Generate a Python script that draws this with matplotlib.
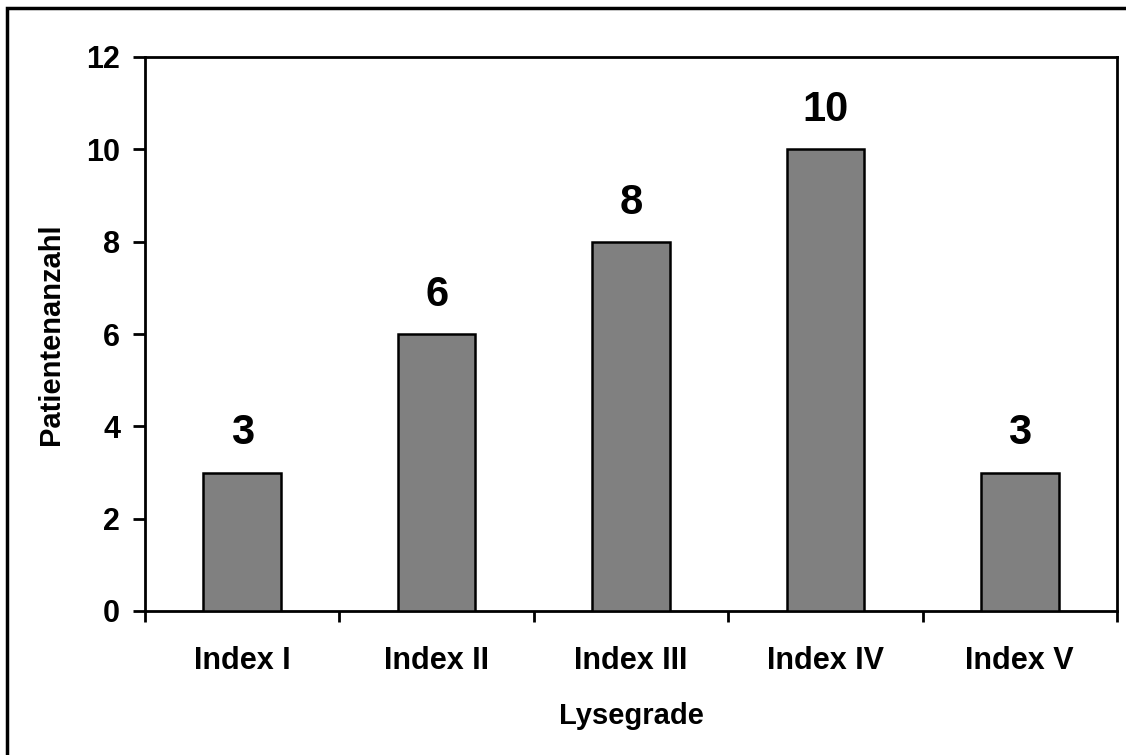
import matplotlib
matplotlib.use("Agg")
import matplotlib.pyplot as plt
from matplotlib.patches import Rectangle
import numpy as np

categories = ["Index I", "Index II", "Index III", "Index IV", "Index V"]
patients = [3, 6, 8, 10, 3]
y_ticks = [0, 2, 4, 6, 8, 10, 12]

plt.rcParams["font.family"] = ["Liberation Sans", "DejaVu Sans"]
plt.rcParams["font.weight"] = "bold"

W, H = 1126, 755
fig = plt.figure(figsize=(W / 100, H / 100), dpi=100)
fig.patch.set_facecolor("white")

ax = fig.add_axes([145 / W, 1 - 611 / H, (1117 - 145) / W, (611 - 57) / H])

x = np.arange(len(categories))
bars = ax.bar(x, patients, width=0.4, color="#808080", edgecolor="black",
              linewidth=1.8, zorder=3)

for xi, v in zip(x, patients):
    ax.annotate(str(v), (xi, v), xytext=(0, 19), textcoords="offset pixels",
                ha="center", va="bottom", fontsize=30, fontweight="bold")

ax.set_xlim(-0.5, len(categories) - 0.5)
ax.set_ylim(0, 12)
ax.set_yticks(y_ticks)
ax.set_yticklabels([str(t) for t in y_ticks], fontsize=22, fontweight="bold")

ax.set_xticks(x)
ax.set_xticklabels(categories, fontsize=22, fontweight="bold")
ax.tick_params(axis="x", which="major", length=0, pad=25)
ax.set_xticks(np.arange(-0.5, len(categories), 1.0), minor=True)
ax.tick_params(axis="x", which="minor", length=8, width=2, direction="out")
ax.tick_params(axis="y", length=9, width=2, direction="out", pad=9)

for s in ax.spines.values():
    s.set_linewidth(2)
    s.set_color("black")

ax.set_xlabel("Lysegrade", fontsize=21, fontweight="bold", labelpad=19)
ax.set_ylabel("Patientenanzahl", fontsize=21, fontweight="bold", labelpad=15)

# outer chart frame
fig.add_artist(Rectangle((7 / W, -0.1), 1.2, 1 - 8 / H + 0.1,
                         transform=fig.transFigure, fill=False,
                         edgecolor="black", linewidth=2.5))

fig.savefig("out.png", dpi=100, facecolor="white")
